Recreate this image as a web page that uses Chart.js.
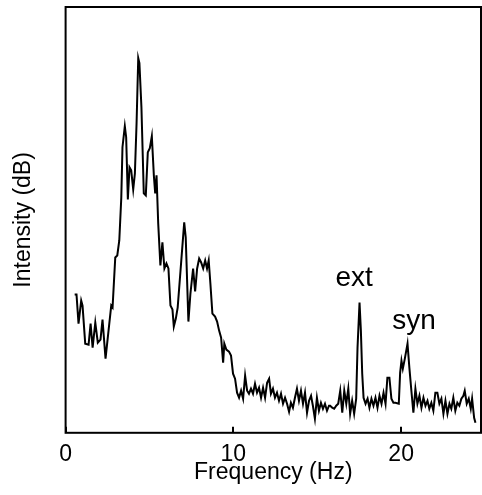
<!DOCTYPE html>
<html>
<head>
<meta charset="utf-8">
<script src="https://cdn.jsdelivr.net/npm/chart.js@4.4.1/dist/chart.umd.min.js"></script>
<style>
  html, body { margin: 0; padding: 0; background: #fff; }
  #wrap { width: 482px; height: 495px; }
</style>
</head>
<body>
<div id="wrap"><canvas id="spectrum" width="482" height="495"></canvas></div>
<script>
// --- data (frequency in Hz, intensity in arbitrary units) ---
const freq = [
  0.54, 0.65, 0.77, 0.93, 1.01, 1.17, 1.37, 1.49, 1.61, 1.77, 1.92, 2.08, 2.20, 2.38, 2.54, 2.72, 2.80, 2.96, 3.08, 3.20,
  3.32, 3.39, 3.53, 3.61, 3.71, 3.81, 3.91, 4.03, 4.13, 4.23, 4.33, 4.40, 4.52, 4.66, 4.78, 4.90, 5.02, 5.14, 5.26, 5.34,
  5.42, 5.52, 5.65, 5.77, 5.89, 6.01, 6.13, 6.25, 6.37, 6.45, 6.57, 6.68, 6.85, 7.07, 7.16, 7.32, 7.44, 7.60, 7.72, 7.84,
  7.96, 8.08, 8.20, 8.32, 8.43, 8.53, 8.63, 8.75, 8.91, 9.03, 9.15, 9.27, 9.39, 9.46, 9.58, 9.74, 9.86, 9.98, 10.10, 10.22,
  10.34, 10.46, 10.58, 10.70, 10.82, 10.93, 11.05, 11.17, 11.29, 11.41, 11.53, 11.65, 11.77, 11.89, 12.01, 12.13, 12.24, 12.36, 12.48, 12.60,
  12.72, 12.84, 12.96, 13.08, 13.20, 13.32, 13.43, 13.55, 13.67, 13.79, 13.91, 14.03, 14.15, 14.27, 14.39, 14.51, 14.63, 14.74, 14.86, 14.98,
  15.10, 15.22, 15.34, 15.46, 15.58, 15.70, 15.77, 15.89, 16.01, 16.13, 16.25, 16.37, 16.49, 16.61, 16.73, 16.85, 16.96, 17.08, 17.20, 17.32,
  17.40, 17.52, 17.60, 17.68, 17.76, 17.88, 18.00, 18.11, 18.23, 18.35, 18.47, 18.59, 18.71, 18.83, 18.95, 19.07, 19.18, 19.30, 19.42, 19.54,
  19.66, 19.86, 19.94, 20.02, 20.10, 20.22, 20.38, 20.49, 20.61, 20.73, 20.85, 20.97, 21.09, 21.21, 21.33, 21.45, 21.57, 21.68, 21.80, 21.92,
  22.04, 22.16, 22.28, 22.40, 22.52, 22.64, 22.76, 22.88, 22.99, 23.11, 23.23, 23.35, 23.47, 23.59, 23.71, 23.79, 23.91, 24.03, 24.15, 24.23,
  24.35, 24.43
];
const intensity = [
  138, 138, 109, 132, 127, 89, 88, 109, 85, 110, 90, 93, 113, 74, 99, 127, 125, 175, 177, 192,
  235, 285, 306, 295, 233, 265, 262, 243, 259, 309, 374, 369, 325, 239, 237, 280, 284, 296, 257, 239,
  257, 209, 167, 190, 164, 169, 164, 127, 123, 106, 114, 125, 162, 210, 195, 111, 139, 164, 141, 164,
  174, 170, 164, 172, 164, 172, 149, 119, 116, 111, 102, 95, 70, 89, 83, 81, 77, 59, 54, 40,
  35, 42, 34, 57, 42, 39, 44, 39, 49, 40, 45, 35, 45, 35, 50, 54, 39, 44, 35, 40,
  32, 39, 29, 35, 29, 21, 30, 25, 35, 44, 32, 42, 29, 40, 20, 32, 37, 27, 14, 35,
  22, 30, 24, 29, 22, 27, 27, 25, 24, 27, 29, 42, 20, 42, 29, 44, 19, 32, 19, 34,
  85, 130, 102, 59, 35, 29, 34, 25, 34, 27, 35, 25, 37, 29, 40, 29, 55, 55, 34, 30,
  30, 29, 60, 72, 64, 74, 89, 65, 42, 20, 44, 29, 37, 25, 35, 27, 32, 24, 30, 22,
  40, 40, 29, 34, 19, 32, 19, 29, 24, 35, 22, 30, 27, 34, 37, 42, 29, 34, 24, 34,
  15, 10
];
const xTicks = [0, 10, 20];
const peakLabels = ['ext', 'syn'];
const peakFreq = [17.2, 20.77];
const peakLevel = [147, 104];

const FONT = 'Liberation Sans, Arial, Helvetica, sans-serif';

// frame + inward tick marks + peak labels
const framePlugin = {
    id: 'frame',
    afterDraw(chart) {
        const { ctx, chartArea: a, scales } = chart;
        ctx.save();
        ctx.strokeStyle = '#000';
        ctx.lineWidth = 2;
        ctx.strokeRect(a.left, a.top, a.right - a.left, a.bottom - a.top);
        // tick marks pointing into the plot
        xTicks.forEach(t => {
            const px = Math.round(scales.x.getPixelForValue(t));
            ctx.beginPath();
            ctx.moveTo(px, a.bottom);
            ctx.lineTo(px, a.bottom - 6);
            ctx.stroke();
        });
        ctx.fillStyle = '#000';
        ctx.font = '28px ' + FONT;
        ctx.textAlign = 'center';
        ctx.textBaseline = 'alphabetic';
        peakLabels.forEach((txt, i) => {
            ctx.fillText(txt, scales.x.getPixelForValue(peakFreq[i]), scales.y.getPixelForValue(peakLevel[i]));
        });
        ctx.restore();
    }
};

new Chart(document.getElementById('spectrum'), {
    type: 'line',
    data: {
        datasets: [{
            data: freq.map((f, i) => ({ x: f, y: intensity[i] })),
            borderColor: '#000',
            borderWidth: 2,
            pointRadius: 0,
            tension: 0,
            fill: false
        }]
    },
    options: {
        responsive: false,
        animation: false,
        layout: { padding: { top: 7, right: 1, left: 10, bottom: 0 } },
        plugins: { legend: { display: false }, tooltip: { enabled: false } },
        scales: {
            x: {
                type: 'linear',
                min: 0,
                max: 24.76,
                grid: { display: false, drawTicks: false },
                border: { display: false },
                afterBuildTicks: s => { s.ticks = xTicks.map(v => ({ value: v })); },
                ticks: { color: '#000', font: { size: 23, family: FONT }, padding: 8, maxRotation: 0 },
                title: { display: true, text: 'Frequency (Hz)', color: '#000', font: { size: 23, family: FONT }, padding: { top: -18, bottom: 9 } }
            },
            y: {
                min: 0,
                max: 425,
                grid: { display: false, drawTicks: false },
                border: { display: false },
                ticks: { display: false },
                title: { display: true, text: 'Intensity (dB)', color: '#000', font: { size: 23, family: FONT }, padding: { top: 0, bottom: 28 } }
            }
        }
    },
    plugins: [framePlugin]
});
</script>
</body>
</html>
